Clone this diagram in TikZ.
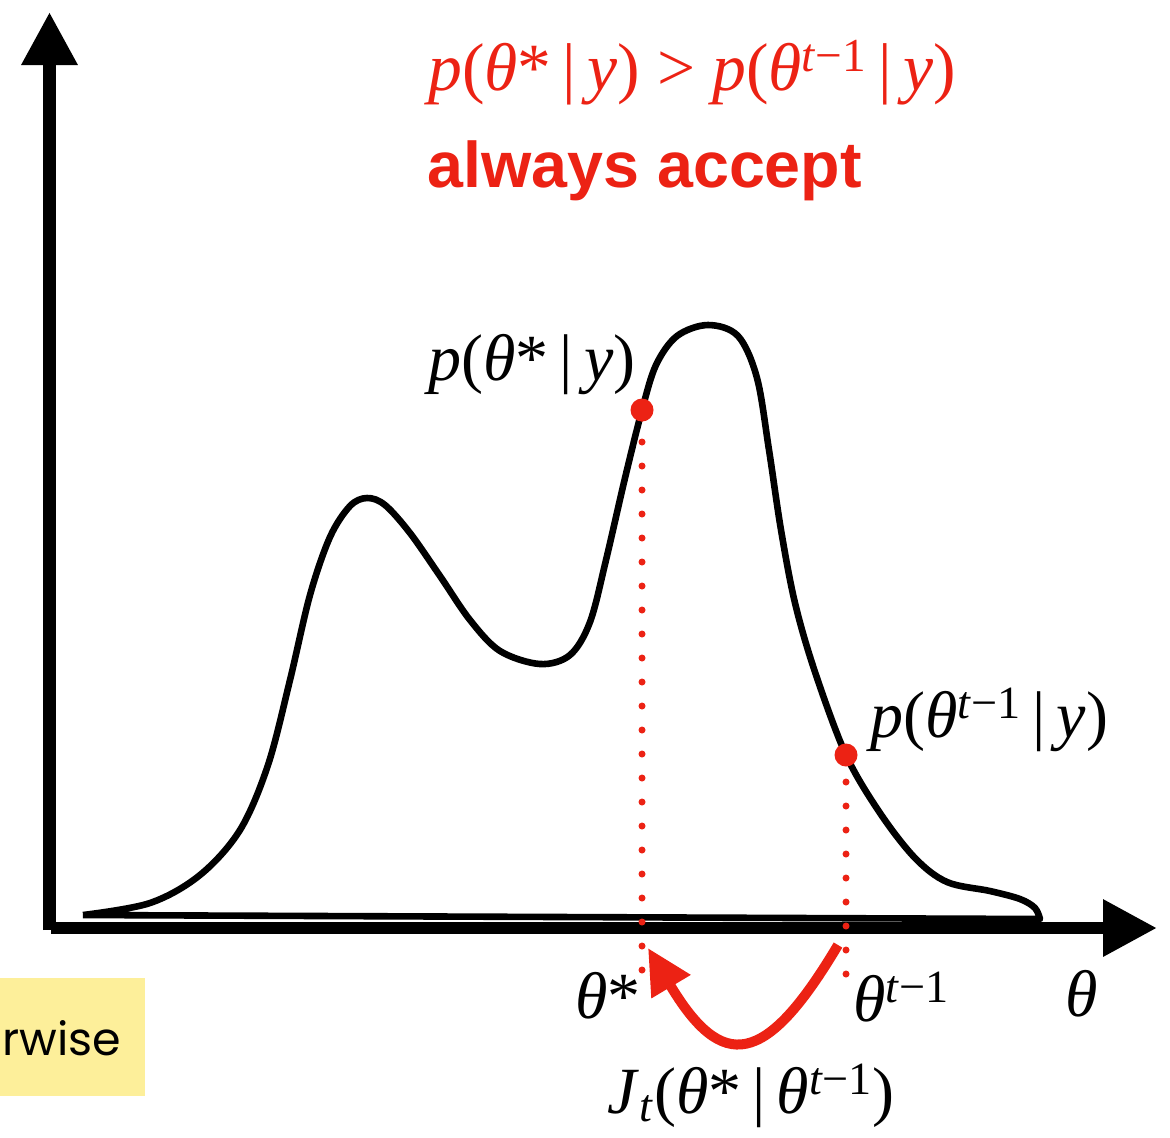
\documentclass[tikz,border=0pt]{standalone}
\usepackage{fontspec}
\setmainfont{Liberation Serif}
\newfontfamily\boldsans{Liberation Sans}
\newfontfamily\geosans{Poppins}
\usetikzlibrary{arrows.meta}
\definecolor{kred}{RGB}{236,34,20}
\definecolor{kyellow}{RGB}{253,239,154}
\newcommand{\mi}[1]{\textit{#1}}
\newcommand{\tsup}{\textsuperscript{\textit{t}−1}}
\begin{document}
\begin{tikzpicture}[x=0.5pt,y=-0.5pt,
  axisline/.style={line width=6.3pt},
  density/.style={line width=3.3pt, line join=round},
  guide/.style={kred, line width=3.5pt, line cap=round, dash pattern=on 0pt off 12pt},
  reddot/.style={circle, fill=kred, inner sep=0pt, minimum size=11.5pt},
  lab/.style={inner sep=0pt, anchor=base west, font=\fontsize{33}{40}\selectfont},
  ]
\useasboundingbox (0,0) rectangle (1170,1137);

% yellow box
\fill[kyellow] (0,978) rectangle (145,1096);
\node[inner sep=0pt, anchor=base west, font=\geosans\fontsize{23}{30}\selectfont] (other) at (2,1055) {rwise};

% axes
\coordinate (yb) at (49.5,930);
\coordinate (yt) at (49.5,12);
\coordinate (xl) at (51,928);
\coordinate (xr) at (1157,928);
\draw[axisline, -{Triangle[length=26.5pt,width=26.5pt]}] (yb) -- (yt);
\draw[axisline, -{Triangle[length=27pt,width=27pt]}] (xl) -- (xr);

% density
\draw[density] plot[smooth, tension=0.55] coordinates {
 (83,915) (150,903) (200,875) (240,830) (268,765) (290,680) (310,595)
 (330,537) (350,506) (367,498) (385,505) (410,533) (440,576) (470,620)
 (500,651) (540,664) (570,655) (590,622) (606,560) (625,478) (642,410)
 (656,365) (677,336) (708,325) (738,336) (757,378) (769,450) (781,530)
 (795,603) (815,672) (846,755) (880,813) (915,858) (947,882) (990,891)
 (1020,899) (1035,908) (1040,919)} -- (83,915);

% points
\node[reddot] (pstar) at (642,410) {};
\node[reddot] (pprev) at (846,755) {};
\coordinate (fstar) at (642,970);
\coordinate (fprev) at (846,974);
\draw[guide] (fstar) -- (pstar.center);
\draw[guide] (fprev) -- (pprev.center);

% jump arrow
\coordinate (jfrom) at (838,945);
\coordinate (jto) at (648,948);
\draw[kred, line width=5pt, -{Triangle[length=22.5pt,width=21.5pt]}]
  (jfrom) .. controls (765,1068) and (722,1072) .. (jto);

% labels
\node[lab, text=kred, font=\fontsize{33.8}{40}\selectfont] (cond) at (428,90)
  {\mi{p}(\mi{θ}*\,|\,\mi{y}) > \mi{p}(\mi{θ}\tsup\,|\,\mi{y})};
\node[inner sep=0pt, anchor=base west, text=kred,
  font=\boldsans\bfseries\fontsize{32.3}{38}\selectfont] (accept) at (427,187) {always accept};
\node[lab] (lstar) at (428,380) {\mi{p}(\mi{θ}*\,|\,\mi{y})};
\node[lab] (lprev) at (870,737) {\mi{p}(\mi{θ}\tsup\,|\,\mi{y})};
\node[lab] (tstar) at (575,1018) {\mi{θ}*};
\node[lab] (tprev) at (853,1021) {\mi{θ}\tsup};
\node[lab] (theta) at (1065,1016) {\mi{θ}};
\node[lab] (jump) at (607,1113) {\mi{J}\textsubscript{\textit{t}}(\mi{θ}*\,|\,\mi{θ}\tsup)};
\end{tikzpicture}
\end{document}
